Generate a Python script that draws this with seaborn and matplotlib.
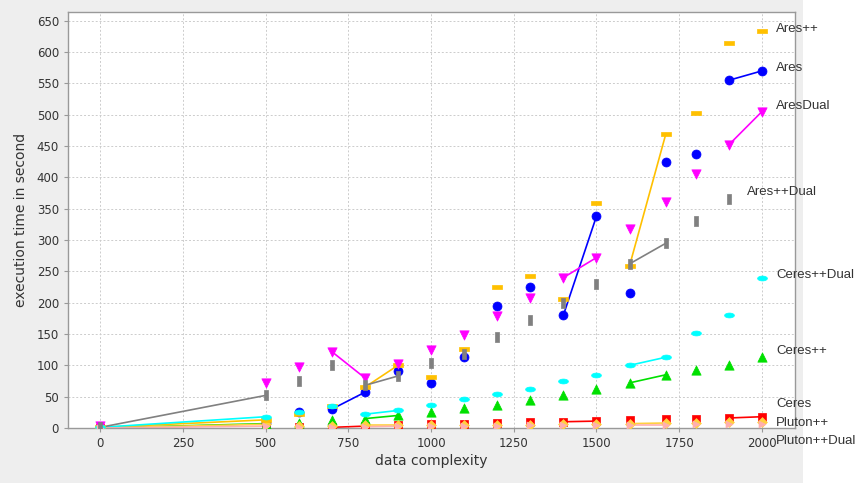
import numpy as np
import pandas as pd
import matplotlib
matplotlib.use("Agg")
import matplotlib.pyplot as plt
import seaborn as sns
from matplotlib.patches import Rectangle

# data complexity values
x_vals = [0, 500, 600, 700, 800, 900, 1000, 1100, 1200, 1300, 1400, 1500, 1600, 1710, 1800, 1900, 2000]

# execution time (seconds) per algorithm
ceres = [0, 3, 2, 1, 3, 4, 6, 7, 8, 9, 10, 11, 13, 14, 15, 16, 18]
ares = [0, 8, 25, 30, 57, 91, 72, 113, 195, 225, 180, 338, 215, 425, 438, 555, 570]
ceres_pp = [0, 7, 8, 13, 15, 20, 25, 32, 37, 45, 52, 62, 72, 85, 93, 100, 113]
pluton_pp = [0, 6, 3, 3, 4, 4, 4, 4, 5, 5, 6, 6, 7, 8, 8, 9, 10]
ares_pp = [1, 13, 22, 35, 65, 100, 81, 126, 225, 243, 206, 359, 259, 470, 503, 615, 633]
ares_dual = [3, 72, 98, 122, 80, 102, 125, 148, 178, 207, 240, 272, 318, 360, 405, 452, 505]
ceres_pp_dual = [1, 18, 25, 35, 22, 28, 37, 47, 55, 63, 75, 85, 100, 113, 152, 180, 240]
pluton_pp_dual = [0, 3, 2, 2, 2, 3, 3, 3, 3, 4, 4, 4, 5, 5, 6, 6, 7]
ares_pp_dual = [1, 52, 75, 100, 68, 83, 103, 118, 146, 173, 200, 230, 262, 295, 330, 365, None]

# pairs of x values joined by a line
segs_a = [(700, 800), (1400, 1500), (1900, 2000)]
segs_b = [(0, 500), (800, 900), (1600, 1710)]

# marker shapes (JFreeChart-like)
hrect = [(-1, -0.35), (1, -0.35), (1, 0.35), (-1, 0.35), (-1, -0.35)]
vrect = [(-0.35, -1), (0.35, -1), (0.35, 1), (-0.35, 1), (-0.35, -1)]
t = np.linspace(0, 2 * np.pi, 30)
hell = list(zip(np.cos(t), 0.5 * np.sin(t)))

series = [
    # name, values, colour, marker, size, segments, label offset (px)
    ("Ceres", ceres, "#ff0000", "s", 38, segs_a, (14, 13)),
    ("Ares", ares, "#0000ff", "o", 42, segs_a, (14, 3)),
    ("Ceres++", ceres_pp, "#00e000", "^", 45, segs_b, (14, 6)),
    ("Pluton++", pluton_pp, "#ffd040", "D", 25, segs_b, (14, -1)),
    ("Ares++", ares_pp, "#ffc000", hrect, 50, segs_b, (14, 2)),
    ("AresDual", ares_dual, "#ff00ff", "v", 45, segs_a, (14, 6)),
    ("Ceres++Dual", ceres_pp_dual, "#00ffff", hell, 50, segs_b, (14, 3)),
    ("Pluton++Dual", pluton_pp_dual, "#ffafaf", ">", 25, segs_b, (14, -17)),
    ("Ares++Dual", ares_pp_dual, "#808080", vrect, 50, segs_b, (18, 7)),
]

sns.set_style("white")
plt.rcParams['font.family'] = ['DejaVu Sans']

fig = plt.figure(figsize=(8.67, 4.83), dpi=100)
fig.patch.set_facecolor("white")
fig.patches.append(Rectangle((0, 0), 803 / 867, 1, transform=fig.transFigure,
                             facecolor="#eeeeee", edgecolor="none", zorder=-10))
ax = fig.add_axes([68 / 867, 55 / 483, 727 / 867, 416 / 483])
ax.set_facecolor("white")

for name, vals, col, mk, sz, segs, off in series:
    df = pd.DataFrame({"x": x_vals, "y": vals}).dropna()
    # connecting segments
    rows = []
    for i, (a, b) in enumerate(segs):
        for xv in (a, b):
            yv = df.loc[df["x"] == xv, "y"]
            if len(yv):
                rows.append({"x": xv, "y": float(yv.iloc[0]), "seg": i})
    seg_df = pd.DataFrame(rows)
    sns.lineplot(data=seg_df, x="x", y="y", units="seg", estimator=None,
                 color=col, lw=1.2, sort=False, ax=ax, legend=False)
    sns.scatterplot(data=df, x="x", y="y", marker=mk, s=sz, color=col,
                    edgecolor=col, linewidth=0.5, ax=ax, legend=False, zorder=3)
    last = df.iloc[-1]
    ax.annotate(name, xy=(last["x"], last["y"]), xytext=off, textcoords="offset pixels",
                ha="left", va="center", fontsize=9.5, color="#333333",
                family=["Liberation Sans", "DejaVu Sans"], annotation_clip=False)

ax.set_xlim(-97, 2100)
ax.set_ylim(0, 664)
ax.set_xticks(range(0, 2001, 250))
ax.set_yticks(range(0, 651, 50))
ax.grid(True, color="#cccccc", linestyle=(0, (2, 2)), linewidth=0.7)
for s in ax.spines.values():
    s.set_color("#999999")
    s.set_linewidth(1)
ax.tick_params(axis="both", colors="#999999", labelcolor="#333333", labelsize=8.5,
               length=3, direction="out", left=True, bottom=True)
ax.set_xlabel("data complexity", fontsize=10, color="#333333", labelpad=3)
ax.set_ylabel("execution time in second", fontsize=10, color="#333333", labelpad=6)

fig.savefig("out.png", dpi=100)
